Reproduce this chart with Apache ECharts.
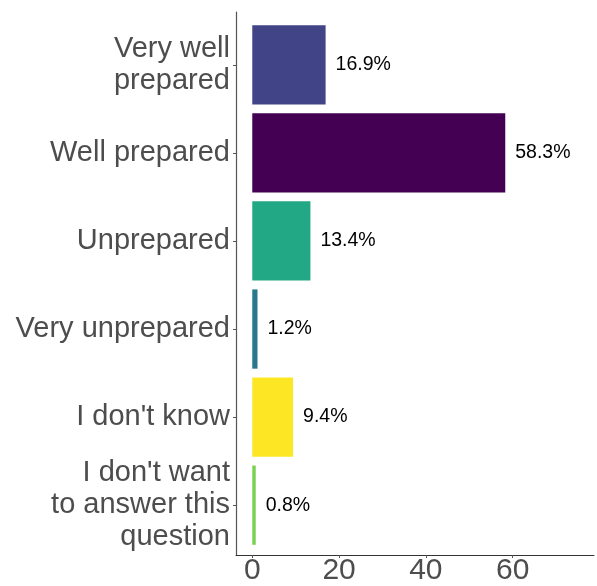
<!DOCTYPE html>
<html>
<head>
<meta charset="utf-8">
<script src="https://cdn.jsdelivr.net/npm/echarts@6/dist/echarts.min.js"></script>
<style>
  html, body { margin: 0; padding: 0; background: #fff; }
  #chart { width: 597px; height: 586px; }
</style>
</head>
<body>
<div id="chart"></div>
<script>
// answers, top to bottom
const categories = [
  'Very well\nprepared',
  'Well prepared',
  'Unprepared',
  'Very unprepared',
  "I don't know",
  "I don't want\nto answer this\nquestion"
];
const shares = [16.9, 58.3, 13.4, 1.2, 9.4, 0.8];
const barColors = ['#414487', '#440154', '#22A884', '#2A788E', '#FDE725', '#7AD151'];
const xTicks = [0, 20, 40, 60];

const font = "'Liberation Sans', Arial, sans-serif";
const axisColor = '#555';
const textColor = '#4D4D4D';

// x range with ggplot-like padding around 0..75
const xMin = -3.75;
const xMax = 78.75;

const chart = echarts.init(document.getElementById('chart'), null, { renderer: 'canvas' });

const option = {
  animation: false,
  textStyle: { fontFamily: font },
  grid: [
    // outer frame: carries the axis lines
    { left: 236, right: 3, top: 12, bottom: 28 },
    // inner panel: category bands padded by 0.6 of a band
    { left: 236, right: 3, top: 20.8, bottom: 36.8 }
  ],
  xAxis: [
    {
      gridIndex: 0,
      type: 'value',
      min: xMin,
      max: xMax,
      splitLine: { show: false },
      axisLine: { show: true, onZero: false, lineStyle: { color: '#333', width: 1 } },
      axisTick: { show: true, length: 3, customValues: xTicks, lineStyle: { color: axisColor } },
      axisLabel: {
        customValues: xTicks,
        fontSize: 30,
        color: textColor,
        fontFamily: font,
        margin: 1
      }
    },
    {
      gridIndex: 1,
      type: 'value',
      min: xMin,
      max: xMax,
      show: false
    }
  ],
  yAxis: [
    {
      gridIndex: 0,
      type: 'value',
      min: 0,
      max: 1,
      axisLine: { show: true, onZero: false, lineStyle: { color: axisColor, width: 1.2 } },
      axisTick: { show: false },
      axisLabel: { show: false },
      splitLine: { show: false }
    },
    {
      gridIndex: 1,
      type: 'category',
      inverse: true,
      data: categories,
      axisLine: { show: false, onZero: false },
      axisTick: { show: true, length: 3, alignWithLabel: true, lineStyle: { color: axisColor } },
      axisLabel: {
        fontSize: 29,
        lineHeight: 32,
        color: textColor,
        fontFamily: font,
        align: 'right',
        padding: [4, 0, 0, 0],
        margin: 6
      },
      splitLine: { show: false }
    }
  ],
  series: [
    {
      type: 'bar',
      xAxisIndex: 1,
      yAxisIndex: 1,
      barWidth: '90%',
      data: shares.map((v, i) => ({ value: v, itemStyle: { color: barColors[i] } })),
      label: {
        show: true,
        position: 'right',
        distance: 10,
        formatter: '{c}%',
        fontSize: 19.5,
        color: '#000',
        fontFamily: font
      }
    }
  ]
};

chart.setOption(option);
</script>
</body>
</html>
